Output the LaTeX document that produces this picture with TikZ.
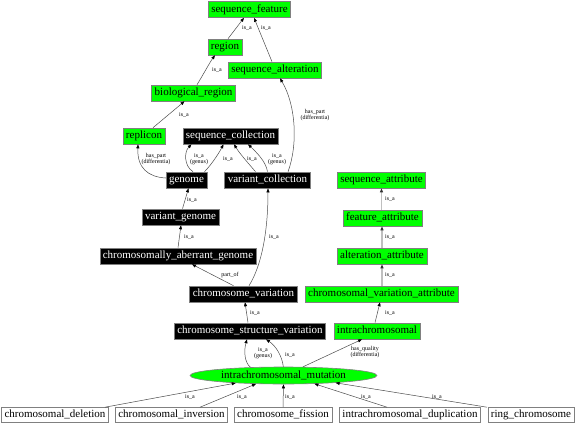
\documentclass[tikz,border=0pt]{standalone}
\usepackage{fontspec}
\setmainfont{Liberation Serif}
\usetikzlibrary{arrows.meta,shapes.geometric}
\begin{document}
\begin{tikzpicture}[x=1pt,y=1pt,
  box/.style={draw=gray,line width=0.6pt,inner xsep=3pt,inner ysep=0pt,minimum height=16pt,
    font=\fontsize{11}{12}\selectfont,text height=7.5pt,text depth=2pt},
  gbox/.style={box,fill=green},
  bbox/.style={box,fill=black,text=white},
  wbox/.style={box,fill=white,minimum height=15pt},
  ebox/.style={ellipse,draw=gray,line width=0.6pt,fill=green,inner sep=0pt,minimum width=187pt,minimum height=17pt,
    font=\fontsize{11}{12}\selectfont},
  edge/.style={draw=black!70,line width=0.5pt,-{Triangle[length=4pt,width=3pt,black]}},
  gedge/.style={draw=black!25,line width=1.6pt,-{Triangle[length=4pt,width=3pt,black!80]}},
  lbl/.style={font=\fontsize{6}{6.5}\selectfont,inner sep=0pt,align=center}
]
\useasboundingbox (0,0) rectangle (576,-426);
\fill[white] (0,0) rectangle (576,-426);

% nodes
\node[gbox] (sf) at (249.5,-9.5) {sequence\_feature};
\node[gbox] (region) at (225,-47) {region};
\node[gbox] (salt) at (275,-70) {sequence\_alteration};
\node[gbox] (bioreg) at (193.5,-93) {biological\_region};
\node[gbox] (replicon) at (144,-136) {replicon};
\node[bbox] (seqcol) at (230.5,-136) {sequence\_collection};
\node[bbox] (genome) at (186.5,-180) {genome};
\node[bbox] (varcol) at (267.5,-180) {variant\_collection};
\node[bbox] (vargen) at (180.5,-217) {variant\_genome};
\node[bbox] (cag) at (178,-256) {chromosomally\_aberrant\_genome};
\node[bbox] (chromvar) at (243.5,-294) {chromosome\_variation};
\node[bbox] (csv) at (250,-331) {chromosome\_structure\_variation};
\node[ebox] (icm) at (283.5,-375.5) {intrachromosomal\_mutation};
\node[gbox] (seqattr) at (381.5,-180) {sequence\_attribute};
\node[gbox] (featattr) at (382.5,-218) {feature\_attribute};
\node[gbox] (altattr) at (382,-256) {alteration\_attribute};
\node[gbox] (cva) at (381.5,-294) {chromosomal\_variation\_attribute};
\node[gbox] (intra) at (377,-331) {intrachromosomal};
\node[wbox] (cdel) at (55,-415) {chromosomal\_deletion};
\node[wbox] (cinv) at (171.5,-415) {chromosomal\_inversion};
\node[wbox] (cfis) at (283,-415) {chromosome\_fission};
\node[wbox] (idup) at (410,-415) {intrachromosomal\_duplication};
\node[wbox] (ring) at (531,-415) {ring\_chromosome};

% edges
\draw[edge] ([xshift=3pt]region.north) -- ([xshift=-5.5pt]sf.south) node[lbl] at (247,-28) {is\_a};
\draw[edge] ([xshift=-3pt]salt.north) -- ([xshift=4.5pt]sf.south) node[lbl] at (266,-28) {is\_a};
\draw[edge] ([xshift=3.5pt]bioreg.north) .. controls (203,-75) and (210,-62) .. ([xshift=-10pt]region.south) node[lbl] at (217,-70) {is\_a};
\draw[edge] ([xshift=9pt]replicon.north) -- ([xshift=-9pt]bioreg.south) node[lbl] at (184,-115) {is\_a};
\draw[edge] ([xshift=20.5pt]varcol.north) .. controls (298,-145) and (296,-105) .. ([xshift=5pt]salt.south) node[lbl] at (315,-115) {has\_part\\(differentia)};
\draw[edge] ([yshift=2pt]genome.west) .. controls (148,-177) and (137,-168) .. ([xshift=-6pt]replicon.south) node[lbl] at (156,-159) {has\_part\\(differentia)};
\draw[edge] ([xshift=6.5pt]genome.north) .. controls (184,-166) and (184,-152) .. ([xshift=-39pt]seqcol.south) node[lbl] at (199,-159) {is\_a\\(genus)};
\draw[edge] ([xshift=18pt]genome.north) .. controls (212,-164) and (219,-153) .. ([xshift=-7pt]seqcol.south) node[lbl] at (228,-159) {is\_a};
\draw[edge] ([xshift=-12pt]varcol.north) .. controls (249,-164) and (240,-154) .. ([xshift=3.5pt]seqcol.south) node[lbl] at (252,-159) {is\_a};
\draw[edge] (varcol.north) .. controls (266,-161) and (255,-151) .. ([xshift=17.5pt]seqcol.south) node[lbl] at (277,-159) {is\_a\\(genus)};
\draw[edge] ([xshift=2pt]vargen.north) -- ([xshift=2pt]genome.south) node[lbl] at (192,-200) {is\_a};
\draw[edge] (cag.north) -- ([xshift=0.5pt]vargen.south) node[lbl] at (189,-237) {is\_a};
\draw[edge] ([xshift=-10pt]chromvar.north) -- ([xshift=14pt]cag.south) node[lbl] at (230,-275) {part\_of};
\draw[edge] ([xshift=5.5pt]chromvar.north) .. controls (262,-265) and (268,-230) .. ([xshift=0.5pt]varcol.south) node[lbl] at (274,-237) {is\_a};
\draw[edge] ([xshift=-2pt]csv.north) -- ([xshift=1.5pt]chromvar.south) node[lbl] at (255,-313) {is\_a};
\draw[edge] (icm.166.5) .. controls (244,-362) and (244,-350) .. ([xshift=-3pt]csv.south) node[lbl] at (263,-353) {is\_a\\(genus)};
\draw[edge] (icm.91) .. controls (282,-356) and (276,-346) .. ([xshift=16pt]csv.south) node[lbl] at (290,-355) {is\_a};
\draw[edge] (icm.24) -- ([xshift=-15pt]intra.south) node[lbl] at (365,-352) {has\_quality\\(differentia)};
\draw[gedge] ([xshift=-1pt]featattr.north) -- (seqattr.south) node[lbl] at (390,-199) {is\_a};
\draw[gedge] (altattr.north) -- ([xshift=-0.5pt]featattr.south) node[lbl] at (390,-237) {is\_a};
\draw[gedge] ([xshift=0.5pt]cva.north) -- (altattr.south) node[lbl] at (390,-275) {is\_a};
\draw[edge] ([xshift=-2pt]intra.north) -- ([xshift=-1.5pt]cva.south) node[lbl] at (390,-313) {is\_a};
\draw[edge] ([xshift=50pt]cdel.north) -- (icm.189.3) node[lbl] at (190,-397) {is\_a};
\draw[edge] ([xshift=28.5pt]cinv.north) -- (icm.197.8) node[lbl] at (242,-397) {is\_a};
\draw[edge] (cfis.north) -- (icm.270) node[lbl] at (290,-397) {is\_a};
\draw[edge] ([xshift=-23pt]idup.north) -- (icm.-15.3) node[lbl] at (366,-397) {is\_a};
\draw[edge] ([xshift=-44pt]ring.north) -- (icm.-8.3) node[lbl] at (437,-397) {is\_a};
\end{tikzpicture}
\end{document}
